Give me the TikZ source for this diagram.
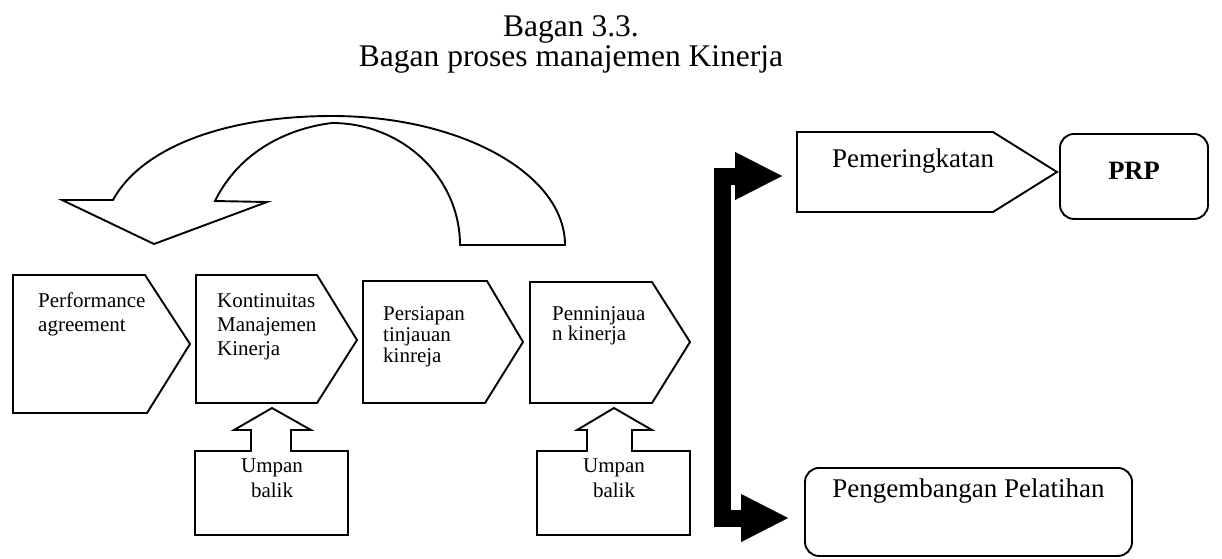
\documentclass[tikz,border=0pt]{standalone}
\usepackage{fontspec}
\setmainfont{Liberation Serif}
\usetikzlibrary{arrows.meta}

\begin{document}
\begin{tikzpicture}[
  x=1pt, y=-1pt,
  outline/.style={draw=black, line width=1.9pt, line join=miter, fill=white},
  chevtext/.style={anchor=north west, inner sep=0pt, align=left, font=\fontsize{21}{24}\selectfont},
  fbtext/.style={anchor=north, inner sep=0pt, align=center, font=\fontsize{21}{25}\selectfont},
  roundbox/.style={rectangle, rounded corners=14pt, draw=black, line width=1.9pt, anchor=north, inner sep=0pt, fill=white, font=\fontsize{27}{30}\selectfont},
  fork/.style={draw=black, line width=17pt, line join=miter,
    {Triangle[length=47pt,width=48pt,line width=0.1pt]}-{Triangle[length=47pt,width=48pt,line width=0.1pt]}}
]
\useasboundingbox (0,0) rectangle (1222,558);

\node[anchor=north, inner sep=0pt, align=center, font=\fontsize{31.5}{30}\selectfont] (title) at (571,15) {Bagan 3.3.\\Bagan proses manajemen Kinerja};

% curved arrow back to the start
\draw[outline] (565,245) .. controls (565,174) and (461,116) .. (332,116)
  .. controls (220,116) and (140,150) .. (113,200)
  -- (62,200) -- (154,244) -- (267,202) -- (215,201)
  .. controls (240,150) and (290,128) .. (332,123)
  .. controls (403,123) and (460,178) .. (460,245) -- cycle;

% process chevrons
\draw[outline] (13,275) -- (145,275) -- (190,344) -- (147,413) -- (13,413) -- cycle;
\draw[outline] (196,275) -- (317,275) -- (357,340) -- (317,403) -- (196,403) -- cycle;
\draw[outline] (363,281) -- (487,281) -- (523,342) -- (485,403) -- (363,403) -- cycle;
\draw[outline] (530,282) -- (652,282) -- (690,342) -- (652,403) -- (530,403) -- cycle;
\node[chevtext] (perf) at (38,293) {Performance\\agreement};
\node[chevtext] (kont) at (217,293) {Kontinuitas\\Manajemen\\Kinerja};
\node[chevtext, font=\fontsize{21}{21}\selectfont] (prep) at (383,306) {Persiapan\\tinjauan\\kinreja};
\node[chevtext, font=\fontsize{21}{18}\selectfont] (review) at (552,306) {Penninjaua\\n kinerja};

% feedback callouts
\draw[outline] (195,451) -- (251,451) -- (251,430) -- (234,430) -- (272,408) -- (311,430)
  -- (291,430) -- (291,451) -- (348,451) -- (348,535) -- (195,535) -- cycle;
\draw[outline] (537,451) -- (587,451) -- (587,430) -- (577,430) -- (614,408) -- (652,430)
  -- (632,430) -- (632,451) -- (690,451) -- (690,535) -- (537,535) -- cycle;
\node[fbtext] (fb1) at (272,459) {Umpan\\balik};
\node[fbtext] (fb2) at (614,459) {Umpan\\balik};

% outcomes
\draw[outline] (797,132) -- (993,132) -- (1057,172) -- (993,212) -- (797,212) -- cycle;
\node[anchor=base west, inner sep=0pt, font=\fontsize{27}{30}\selectfont] (pem) at (832,167) {Pemeringkatan};
\node[roundbox, minimum width=148pt, text height=46pt, text depth=39pt, font=\fontsize{26.5}{30}\selectfont\bfseries] (prp) at (1134,133) {PRP};
\node[roundbox, minimum width=327pt, text height=30pt, text depth=58pt] (peng) at (968.5,467) {Pengembangan Pelatihan};

\coordinate (fork) at (722,347);
\coordinate (to pem) at (782,176);
\coordinate (to peng) at (788,518);
\draw[fork] (to pem) -| (fork) |- (to peng);
\end{tikzpicture}
\end{document}
